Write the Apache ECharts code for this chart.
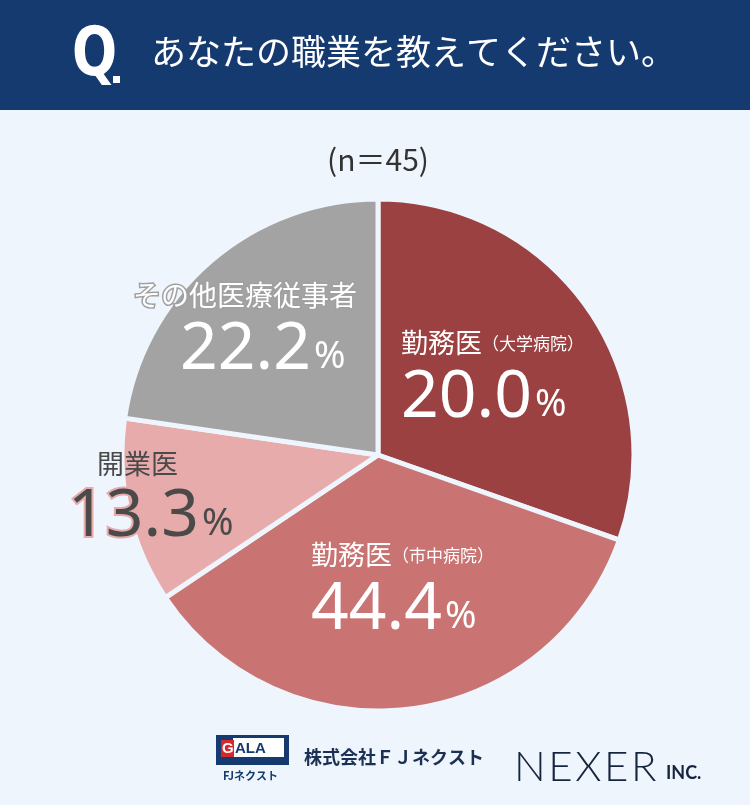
<!DOCTYPE html>
<html>
<head>
<meta charset="utf-8">
<script src="https://cdn.jsdelivr.net/npm/echarts@6/dist/echarts.min.js"></script>
<style>
  html, body { margin: 0; padding: 0; background: #eef5fc; }
  #myChart { width: 750px; height: 805px; }
</style>
</head>
<body>
<div id="myChart"></div>
<script>
// slices clockwise from 12 o'clock
const categories = ['勤務医（大学病院）', '勤務医（市中病院）', '開業医', 'その他医療従事者'];
const labelNames = ['勤務医', '勤務医', '開業医', 'その他医療従事者'];
const labelSubs = ['（大学病院）', '（市中病院）', '', ''];
const percents = ['20.0', '44.4', '13.3', '22.2'];
// arc sizes as they are drawn in the picture (%)
const sliceShares = [30.4, 35.2, 11.7, 22.7];

const colors = ['#9c4142', '#c97472', '#e6abaa', '#a3a3a3'];
const bg = '#eef5fc';
const navy = '#143a6f';
const jp = '"Noto Sans CJK JP", "Noto Sans", sans-serif';
const num = '"Noto Sans", "Noto Sans CJK JP", sans-serif';

// top-left corner of each label block
const labelPos = [[401, 323], [311, 535], [68, 444], [133, 275]];

let myChart = echarts.init(document.getElementById('myChart'));

let series = [{
    type: 'pie',
    center: [378, 455],
    radius: 256,
    startAngle: 90,
    clockwise: true,
    silent: true,
    animation: false,
    itemStyle: { borderColor: bg, borderWidth: 5 },
    data: categories.map((c, i) => ({
        name: c,
        value: sliceShares[i],
        itemStyle: { color: colors[i] }
    })),
    label: {
        show: true,
        position: 'inside',
        formatter: p => {
            let i = p.dataIndex;
            if (i === 2) {
                return '{nameDark|' + labelNames[i] + '}\n{numDark|' + percents[i] + '}{pctDark|%}';
            }
            if (i === 3) {
                return '{nameGray|' + labelNames[i] + '}\n{numShift|' + percents[i] + '}{pct|%}';
            }
            return '{name|' + labelNames[i] + '}{sub|' + labelSubs[i] + '}\n{num|' + percents[i] + '}{pct|%}';
        },
        rich: {
            name: { fontFamily: jp, fontSize: 27, color: '#fff', lineHeight: 40 },
            sub: { fontFamily: jp, fontSize: 17, color: '#fff', lineHeight: 40, padding: [2, 0, 0, 0] },
            num: { fontFamily: num, fontSize: 66, color: '#fff', lineHeight: 70 },
            pct: { fontFamily: num, fontSize: 38, color: '#fff', lineHeight: 70, padding: [14, 0, 0, 3] },
            nameDark: { fontFamily: jp, fontSize: 27, color: '#4a4a4a', lineHeight: 40, padding: [0, 0, 0, 29] },
            numDark: {
                fontFamily: num, fontSize: 66, color: '#4a4a4a', lineHeight: 66,
                textBorderColor: '#e6abaa', textBorderWidth: 4
            },
            pctDark: {
                fontFamily: num, fontSize: 38, color: '#4a4a4a', lineHeight: 66, padding: [14, 0, 0, 3],
                textBorderColor: '#e6abaa', textBorderWidth: 3
            },
            nameGray: {
                fontFamily: jp, fontSize: 28, color: '#fff', lineHeight: 40,
                textBorderColor: '#a0a0a0', textBorderWidth: 3
            },
            numShift: { fontFamily: num, fontSize: 66, color: '#fff', lineHeight: 68, padding: [0, 0, 0, 47] }
        }
    },
    labelLine: { show: false },
    labelLayout: p => {
        let pos = labelPos[p.dataIndex];
        return { x: pos[0], y: pos[1], align: 'left', verticalAlign: 'top' };
    }
}];

let option = {
    backgroundColor: bg,
    animation: false,
    graphic: [
        { type: 'rect', shape: { x: 0, y: 0, width: 750, height: 110 }, style: { fill: navy } },
        {
            type: 'text', x: 72, y: 57, scaleX: 0.78,
            style: {
                text: 'Q', fill: '#fff', font: 'bold 68px "DejaVu Sans", sans-serif',
                textVerticalAlign: 'middle'
            }
        },
        { type: 'rect', shape: { x: 113, y: 76, width: 7, height: 7 }, style: { fill: '#fff' } },
        {
            type: 'text', x: 151, y: 52,
            style: { text: 'あなたの職業を教えてください。', fill: '#fff', font: '35px ' + jp, textVerticalAlign: 'middle' }
        },
        {
            type: 'text', x: 378, y: 160,
            style: {
                text: '(n＝45)', fill: '#333', font: '30px ' + jp,
                textAlign: 'center', textVerticalAlign: 'middle'
            }
        },
        // footer logos
        { type: 'rect', shape: { x: 216, y: 735, width: 73, height: 30 }, style: { fill: navy } },
        { type: 'rect', shape: { x: 233, y: 738, width: 51, height: 19 }, style: { fill: '#fff' } },
        { type: 'rect', shape: { x: 221, y: 740, width: 13, height: 17 }, style: { fill: '#d8262b' } },
        {
            type: 'text', x: 222, y: 749,
            style: { text: 'G', fill: '#fff', font: 'bold 15px "Liberation Sans", sans-serif', textVerticalAlign: 'middle' }
        },
        {
            type: 'text', x: 235, y: 749,
            style: { text: 'ALA', fill: navy, font: 'bold 15px "Liberation Sans", sans-serif', textVerticalAlign: 'middle' }
        },
        {
            type: 'text', x: 223, y: 776,
            style: { text: 'FJネクスト', fill: navy, font: 'bold 11px ' + jp, textVerticalAlign: 'middle' }
        },
        {
            type: 'text', x: 304, y: 757,
            style: { text: '株式会社ＦＪネクスト', fill: '#1c2f55', font: 'bold 18px ' + jp, textVerticalAlign: 'middle' }
        },
        {
            type: 'text', x: 514, y: 767,
            style: { text: 'N\u200AE\u200AX\u200AE\u200AR', fill: '#15243f', font: '300 42px Lato, "Noto Sans", sans-serif', textVerticalAlign: 'middle' }
        },
        {
            type: 'text', x: 666, y: 773,
            style: { text: 'INC.', fill: '#15243f', font: 'bold 18px Lato, "Noto Sans", sans-serif', textVerticalAlign: 'middle' }
        }
    ],
    series: series
};
myChart.setOption(option);
</script>
</body>
</html>
